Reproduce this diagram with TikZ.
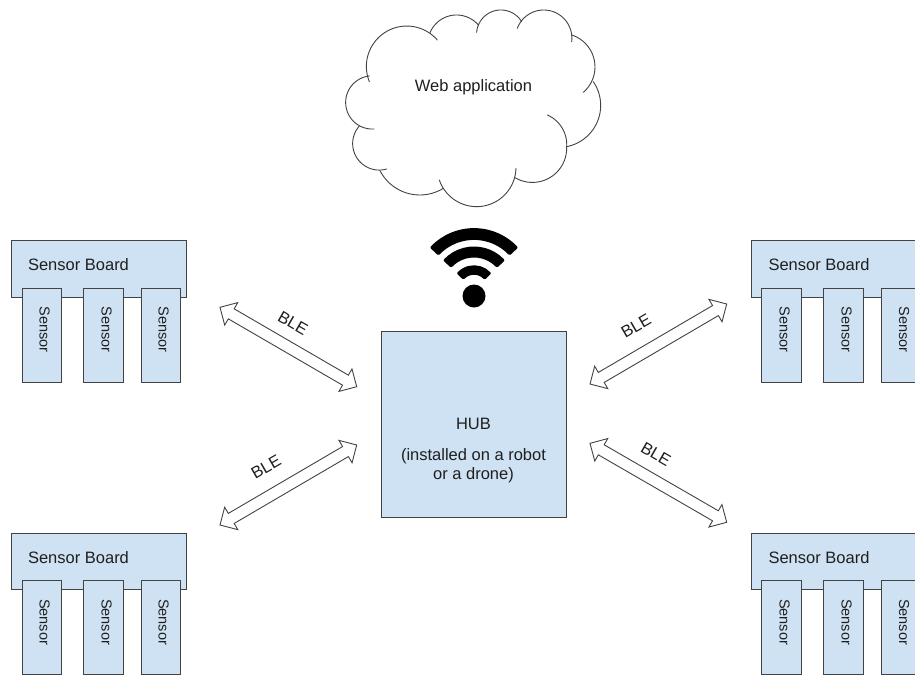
\documentclass[tikz,border=0pt]{standalone}
\usepackage{fontspec}
\setmainfont{Liberation Sans}
\usetikzlibrary{calc}
\definecolor{boxfill}{HTML}{CFE2F3}
\definecolor{boxline}{HTML}{434343}
\definecolor{inkc}{HTML}{1F1F1F}
\tikzset{
  boxbase/.style={draw=boxline,fill=boxfill,line width=1pt,inner sep=0pt},
  labeltext/.style={text=inkc,inner sep=0pt,font=\fontsize{16.5}{19}\selectfont,align=center},
  sensortext/.style={text=inkc,inner sep=0pt,font=\fontsize{14.5}{17}\selectfont,rotate=-90},
  blockarrow/.style={draw=boxline,fill=white,line width=0.9pt,line join=miter},
  cloudline/.style={draw=boxline,line width=0.9pt,line cap=round},
  wifiband/.style={draw=black,fill=black,line width=3pt,line join=round}
}
% box: name, x1, y1, x2, y2
\newcommand{\pxbox}[5]{\node[boxbase,minimum width={#4-#2},minimum height={#5-#3}] (#1) at ({(#2+#4)/2},{(#3+#5)/2}) {};}
% sensor: name, x1, x2, y1
\newcommand{\sensorunit}[4]{\pxbox{#1}{#2}{#4}{#3}{#4+94}\node[sensortext] (#1t) at ([shift={(3,-5.5)}]#1.center) {Sensor};}
% double block arrow between two named coordinates
\newcommand{\blockarrowdraw}[2]{%
  \draw[blockarrow] (#1)
   -- ($(#1)!13pt!(#2)!13pt!90:(#2)$)
   -- ($(#1)!13pt!(#2)!5.8pt!90:(#2)$)
   -- ($(#2)!13pt!(#1)!5.8pt!-90:(#1)$)
   -- ($(#2)!13pt!(#1)!13pt!-90:(#1)$)
   -- (#2)
   -- ($(#2)!13pt!(#1)!13pt!90:(#1)$)
   -- ($(#2)!13pt!(#1)!5.8pt!90:(#1)$)
   -- ($(#1)!13pt!(#2)!5.8pt!-90:(#2)$)
   -- ($(#1)!13pt!(#2)!13pt!-90:(#2)$)
   -- cycle;}
% wifi band: radius, half angle, half thickness without the outline
\newcommand{\wifiarc}[3]{\filldraw[wifiband] ($(wc)+({270+#2}:{#1+#3})$) arc[start angle={270+#2},end angle={270-#2},radius={#1+#3}]
   -- ($(wc)+({270-#2}:{#1-#3})$) arc[start angle={270-#2},end angle={270+#2},radius={#1-#3}] -- cycle;}
% circular arc through three points (zoom units)
\newcommand{\cloudarc}[6]{%
  \pgfmathsetmacro{\ax}{#1/100}\pgfmathsetmacro{\ay}{#2/100}%
  \pgfmathsetmacro{\bx}{#3/100}\pgfmathsetmacro{\by}{#4/100}%
  \pgfmathsetmacro{\cx}{#5/100}\pgfmathsetmacro{\cy}{#6/100}%
  \pgfmathsetmacro{\dd}{2*(\ax*(\by-\cy)+\bx*(\cy-\ay)+\cx*(\ay-\by))}%
  \pgfmathsetmacro{\aa}{\ax*\ax+\ay*\ay}\pgfmathsetmacro{\bb}{\bx*\bx+\by*\by}\pgfmathsetmacro{\cc}{\cx*\cx+\cy*\cy}%
  \pgfmathsetmacro{\ux}{(\aa*(\by-\cy)+\bb*(\cy-\ay)+\cc*(\ay-\by))/\dd}%
  \pgfmathsetmacro{\uy}{(\aa*(\cx-\bx)+\bb*(\ax-\cx)+\cc*(\bx-\ax))/\dd}%
  \pgfmathsetmacro{\rr}{veclen(\ax-\ux,\ay-\uy)}%
  \pgfmathsetmacro{\sa}{atan2(\ay-\uy,\ax-\ux)}%
  \pgfmathsetmacro{\ma}{mod(atan2(\by-\uy,\bx-\ux)-\sa+720,360)}%
  \pgfmathsetmacro{\ea}{mod(atan2(\cy-\uy,\cx-\ux)-\sa+720,360)}%
  \pgfmathsetmacro{\fa}{\ma<\ea ? \sa+\ea : \sa+\ea-360}%
  \draw[cloudline] plot[domain=\sa:\fa,samples=48] ({100*(\ux+\rr*cos(\x))},{100*(\uy+\rr*sin(\x))});}
\begin{document}
\begin{tikzpicture}[x=1pt,y=-1pt]
\clip (0,0) rectangle (915,675);
\fill[white] (0,0) rectangle (915,675);
% cloud (zoom units: px = 330 + x/3, y/3)
\begin{scope}[shift={(330,0)},x=0.3333pt,y=-0.3333pt]
\cloudarc{322}{120}{200}{82}{118}{245}
\cloudarc{118}{228}{47}{305}{132}{387}
\cloudarc{88}{378}{68}{430}{170}{507}
\cloudarc{150}{512}{270}{585}{340}{565}
\cloudarc{328}{540}{440}{620}{558}{505}
\cloudarc{555}{533}{615}{547}{710}{440}
\cloudarc{652}{345}{697}{385}{710}{440}
\cloudarc{710}{440}{812}{320}{790}{245}
\cloudarc{760}{277}{795}{200}{725}{105}
\cloudarc{725}{125}{640}{30}{562}{85}
\cloudarc{575}{65}{510}{30}{440}{97}
\cloudarc{445}{75}{380}{45}{300}{98}
\end{scope}
\node[labeltext] (web) at (473.5,87) {Web application};
% wifi
\coordinate (wc) at (474,288);
\wifiarc{54}{46}{4.4}
\wifiarc{36}{46}{4.0}
\wifiarc{18}{46}{3.2}
\fill[black] (474,296) circle[radius=11.5];
% hub
\pxbox{hub}{381}{331}{566}{517}
\node[labeltext] (hubtext) at (473.5,451) {HUB\\[12pt](installed on a robot\\or a drone)};
% top left group
\pxbox{boardA}{11}{240}{186}{297}
\node[labeltext] (boardAt) at (78.5,265) {Sensor Board};
\sensorunit{sA1}{22}{61}{288}
\sensorunit{sA2}{83.5}{123.5}{288}
\sensorunit{sA3}{141}{180}{288}
% bottom left group
\pxbox{boardB}{11}{533}{186}{589}
\node[labeltext] (boardBt) at (78.5,558) {Sensor Board};
\sensorunit{sB1}{22}{61}{580.5}
\sensorunit{sB2}{83.5}{123.5}{580.5}
\sensorunit{sB3}{141}{180}{580.5}
% top right group
\pxbox{boardC}{751}{240}{926}{297}
\node[labeltext] (boardCt) at (819,265) {Sensor Board};
\sensorunit{sC1}{761.5}{801.5}{288}
\sensorunit{sC2}{823.5}{863.5}{288}
\sensorunit{sC3}{881}{921}{288}
% bottom right group
\pxbox{boardD}{751}{533}{926}{589}
\node[labeltext] (boardDt) at (819,558) {Sensor Board};
\sensorunit{sD1}{761.5}{801.5}{580.5}
\sensorunit{sD2}{823.5}{863.5}{580.5}
\sensorunit{sD3}{881}{921}{580.5}
% arrows
\coordinate (a1) at (220,307.3); \coordinate (a2) at (356.7,386.7);
\coordinate (b1) at (220,525);   \coordinate (b2) at (356.7,445);
\coordinate (c1) at (726.7,304); \coordinate (c2) at (590,384);
\coordinate (d1) at (726.7,522.3); \coordinate (d2) at (590,443.3);
\blockarrowdraw{a1}{a2}
\blockarrowdraw{b1}{b2}
\blockarrowdraw{c1}{c2}
\blockarrowdraw{d1}{d2}
\node[labeltext,rotate=-30] (bleA) at (293,323) {BLE};
\node[labeltext,rotate=30] (bleB) at (266,467) {BLE};
\node[labeltext,rotate=30] (bleC) at (636,326) {BLE};
\node[labeltext,rotate=-30] (bleD) at (656,454) {BLE};
\end{tikzpicture}
\end{document}
